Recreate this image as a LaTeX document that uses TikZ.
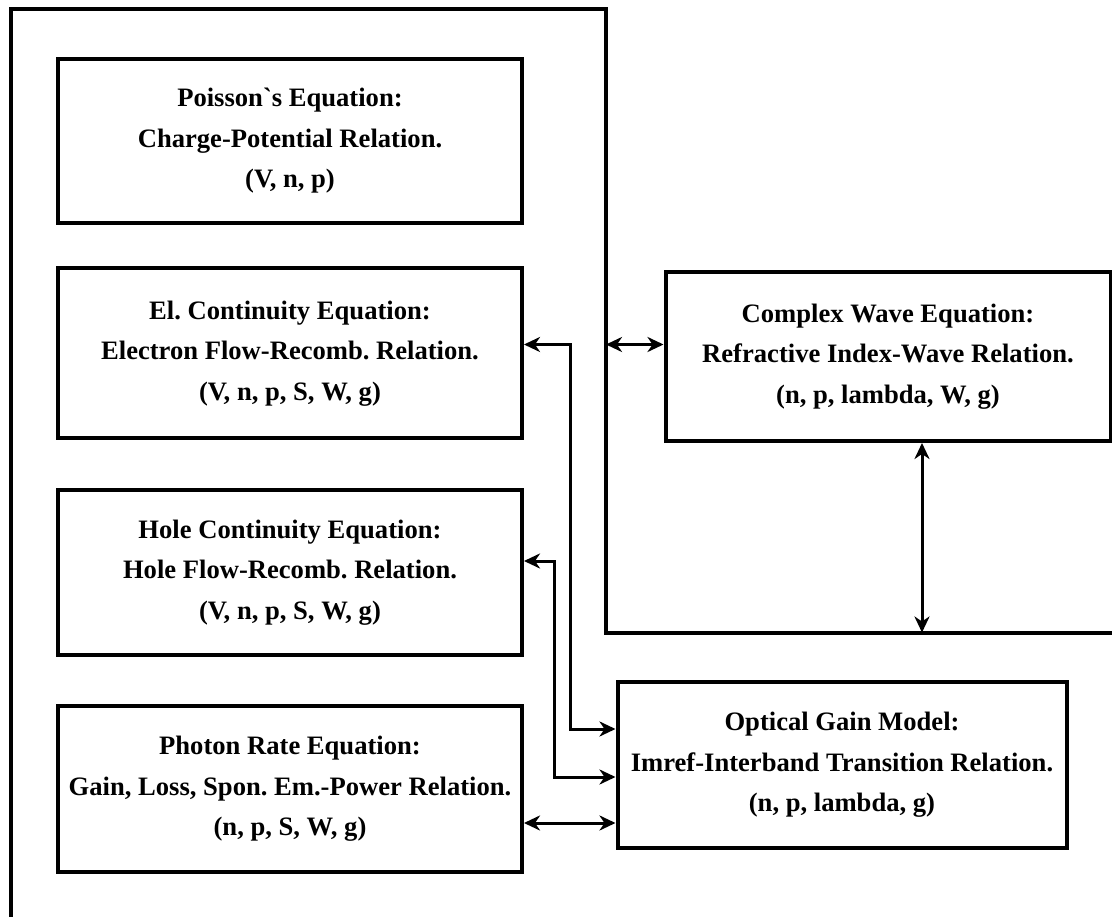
\documentclass[tikz,border=0pt]{standalone}
\usepackage{fontspec}
\setmainfont{Liberation Serif}[Ligatures=TeXOff]
\frenchspacing
\usetikzlibrary{arrows.meta}
\begin{document}
\begin{tikzpicture}[x=1pt,y=-1pt,
  box/.style={draw,line width=4pt,inner sep=0pt,align=center,
    font=\bfseries\fontsize{26.6}{40.5}\selectfont},
  frame/.style={line width=4pt},
  conn/.style={line width=3pt,{Stealth[length=16pt,width=15pt,inset=5pt]}-{Stealth[length=16pt,width=15pt,inset=5pt]}}]
\useasboundingbox (0,0) rectangle (1112,917);
\draw[frame] (10.5,919) -- (10.5,9) -- (606,9) -- (606,632.5) -- (1114,632.5);
\coordinate (f1) at (606,344.5);
\coordinate (f2) at (922,632.5);
\node[box,minimum width=464pt,minimum height=164pt] (po) at (290,141)
  {Poisson`s Equation:\\Charge-Potential Relation.\\(V, n, p)};
\node[box,minimum width=464pt,minimum height=170pt] (el) at (290,353.5)
  {El. Continuity Equation:\\Electron Flow-Recomb. Relation.\\(V, n, p, S, W, g)};
\node[box,minimum width=464pt,minimum height=165pt] (ho) at (290,572.5)
  {Hole Continuity Equation:\\Hole Flow-Recomb. Relation.\\(V, n, p, S, W, g)};
\node[box,minimum width=464pt,minimum height=166.5pt] (ph) at (290,788.75)
  {Photon Rate Equation:\\Gain, Loss, Spon. Em.-Power Relation.\\(n, p, S, W, g)};
\node[box,minimum width=445pt,minimum height=169pt] (cw) at (888,356.5)
  {Complex Wave Equation:\\Refractive Index-Wave Relation.\\(n, p, lambda, W, g)};
\node[box,minimum width=449pt,minimum height=166.5pt] (og) at (842,765)
  {Optical Gain Model:\\Imref-Interband Transition Relation.\\(n, p, lambda, g)};
\draw[conn] (el.east |- 0,344.5) -- (570,344.5) |- (og.west |- 0,729);
\draw[conn] (ho.east |- 0,561) -- (554.5,561) |- (og.west |- 0,777);
\draw[conn] (ph.east |- 0,823) -- (og.west |- 0,823);
\draw[conn] (f1) -- (cw.west |- f1);
\draw[conn] (cw.south -| f2) -- (f2);
\end{tikzpicture}
\end{document}
